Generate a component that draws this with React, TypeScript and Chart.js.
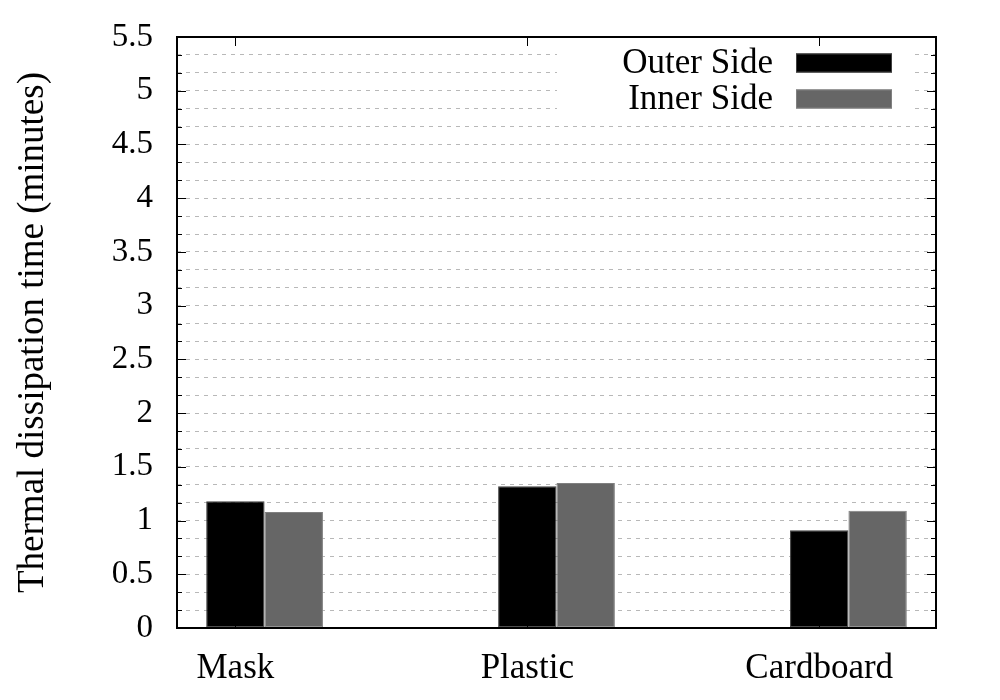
import React, { useEffect, useRef } from "react";
import { Chart, registerables } from "chart.js";

Chart.register(...registerables);

// ---- data ----
const categories = ["Mask", "Plastic", "Cardboard"];
const seriesLabels = ["Outer Side", "Inner Side"];
const outerSide = [1.18, 1.32, 0.91];
const innerSide = [1.08, 1.35, 1.09];
const yTickLabels = ["0", "0.5", "1", "1.5", "2", "2.5", "3", "3.5", "4", "4.5", "5", "5.5"];
const yMajorValues = [0, 0.5, 1, 1.5, 2, 2.5, 3, 3.5, 4, 4.5, 5, 5.5];
const yTitle = "Thermal dissipation time (minutes)";

const FAMILY = "'Liberation Serif', 'Times New Roman', serif";

// grid values: each major interval split into 3 minor steps
const gridValues: number[] = [];
yMajorValues.forEach((v, i) => {
  gridValues.push(v);
  if (i < yMajorValues.length - 1) {
    const next = yMajorValues[i + 1];
    gridValues.push(v + (next - v) / 3);
    gridValues.push(v + (2 * (next - v)) / 3);
  }
});

const majorLabel = (v: number): string => {
  const idx = yMajorValues.findIndex((m) => Math.abs(m - v) < 1e-6);
  return idx >= 0 ? yTickLabels[idx] : "";
};

const framePlugin = {
  id: "gnuFrame",
  afterDatasetsDraw(chart: any) {
    const { ctx, chartArea } = chart;
    const { left, top, right, bottom } = chartArea;
    ctx.save();

    // legend (inside, top-right, white opaque box)
    ctx.fillStyle = "#ffffff";
    ctx.fillRect(right - 379, top + 1, 355, 80);
    const sampleW = 96;
    const sampleH = 19;
    const sx = right - 44 - sampleW;
    chart.data.datasets.forEach((ds: any, i: number) => {
      const cy = top + 26 + i * 36;
      ctx.fillStyle = ds.backgroundColor;
      ctx.fillRect(sx, cy - sampleH / 2, sampleW, sampleH);
      ctx.strokeStyle = ds.borderColor;
      ctx.lineWidth = 1;
      ctx.strokeRect(sx + 0.5, cy - sampleH / 2 + 0.5, sampleW - 1, sampleH - 1);
      ctx.fillStyle = "#000";
      ctx.font = `35px ${FAMILY}`;
      ctx.textAlign = "right";
      ctx.textBaseline = "middle";
      ctx.fillText(ds.label, sx - 23, cy + 1);
    });

    // inward tick marks
    ctx.strokeStyle = "#000";
    ctx.lineWidth = 1;
    const ys = chart.scales.y;
    ys.ticks.forEach((t: any) => {
      const py = Math.round(ys.getPixelForValue(t.value)) + 0.5;
      const len = majorLabel(t.value) ? 9 : 5;
      ctx.beginPath();
      ctx.moveTo(left, py);
      ctx.lineTo(left + len, py);
      ctx.moveTo(right, py);
      ctx.lineTo(right - len, py);
      ctx.stroke();
    });
    const xs = chart.scales.x;
    xs.ticks.forEach((t: any) => {
      const px = Math.round(xs.getPixelForValue(t.value)) + 0.5;
      ctx.beginPath();
      ctx.moveTo(px, top);
      ctx.lineTo(px, top + 9);
      ctx.moveTo(px, bottom);
      ctx.lineTo(px, bottom - 9);
      ctx.stroke();
    });

    // frame
    ctx.lineWidth = 2;
    ctx.strokeStyle = "#000";
    ctx.strokeRect(left, top, right - left, bottom - top);
    ctx.restore();
  },
};

export default function App() {
  const ref = useRef<HTMLCanvasElement | null>(null);

  useEffect(() => {
    document.body.style.margin = "0";
    const canvas = ref.current;
    if (!canvas) return;
    const chart = new Chart(canvas, {
      type: "bar",
      data: {
        datasets: [
          {
            label: seriesLabels[0],
            data: categories.map((_, i) => ({ x: i, y: outerSide[i] })),
            backgroundColor: "#000000",
            borderColor: "#404040",
            borderWidth: 1,
            borderSkipped: false,
            categoryPercentage: 0.4,
            barPercentage: 1,
          },
          {
            label: seriesLabels[1],
            data: categories.map((_, i) => ({ x: i, y: innerSide[i] })),
            backgroundColor: "#666666",
            borderColor: "#808080",
            borderWidth: 1,
            borderSkipped: false,
            categoryPercentage: 0.4,
            barPercentage: 1,
          },
        ],
      } as any,
      options: {
        animation: false,
        responsive: false,
        devicePixelRatio: 1,
        layout: { padding: { left: 0, top: 37, right: 64, bottom: 0 } },
        plugins: {
          legend: { display: false },
          tooltip: { enabled: false },
        },
        scales: {
          x: {
            type: "linear",
            min: -0.3,
            max: 2.3,
            offset: false,
            grid: { display: false, offset: false },
            border: { display: false },
            afterBuildTicks: (s: any) => {
              s.ticks = categories.map((_, i) => ({ value: i - 0.1 }));
            },
            afterFit: (s: any) => {
              s.height = 72;
            },
            ticks: {
              autoSkip: false,
              maxRotation: 0,
              padding: 12,
              color: "#000",
              font: { family: FAMILY, size: 35 },
              callback: (_v: any, idx: number) => categories[idx],
            },
          },
          y: {
            type: "linear",
            min: 0,
            max: 5.5,
            afterBuildTicks: (s: any) => {
              s.ticks = gridValues.map((v) => ({ value: v }));
            },
            afterFit: (s: any) => {
              s.width = 177;
            },
            grid: {
              color: "#b8b8b8",
              lineWidth: 1,
              drawTicks: true,
              tickLength: 24,
              tickColor: "rgba(0,0,0,0)",
            },
            border: { display: false, dash: [4, 5] },
            ticks: {
              autoSkip: false,
              padding: 0,
              color: "#000",
              font: { family: FAMILY, size: 33 },
              callback: (v: any) => majorLabel(Number(v)),
            },
            title: {
              display: true,
              text: yTitle,
              color: "#000",
              font: { family: FAMILY, size: 37 },
              padding: { top: 11, bottom: 0 },
            },
          },
        },
      } as any,
      plugins: [framePlugin],
    });
    return () => chart.destroy();
  }, []);

  return (
    <div style={{ width: 1000, height: 700, background: "#fff" }}>
      <canvas ref={ref} width={1000} height={700} />
    </div>
  );
}
